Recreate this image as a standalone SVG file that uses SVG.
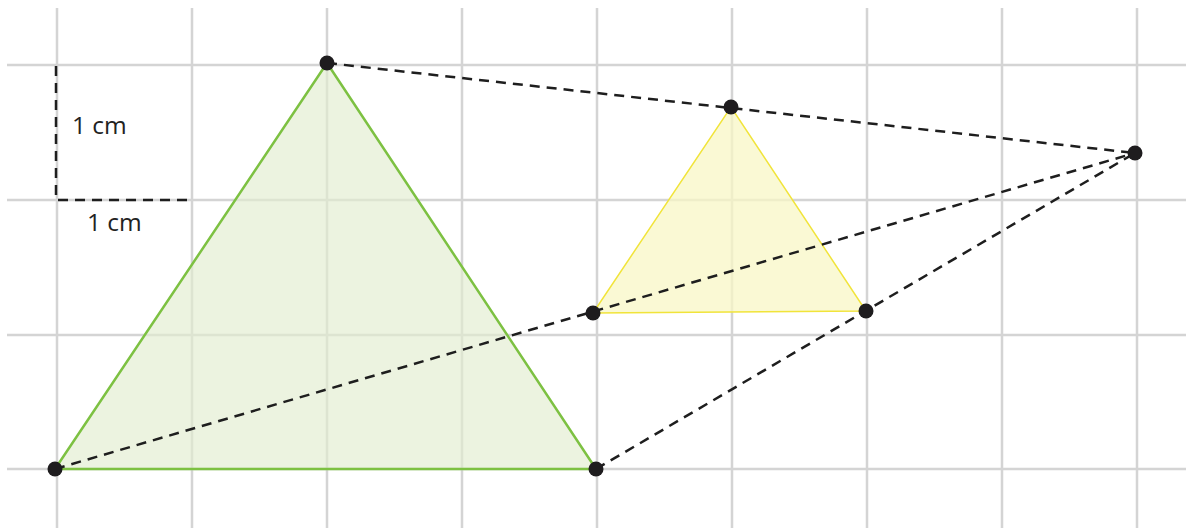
<svg xmlns="http://www.w3.org/2000/svg" width="1186" height="528" viewBox="0 0 1186 528">
<style>
.grid{stroke:#d4d4d4;stroke-width:2.5;fill:none}
.dash{stroke:#1e1e1e;stroke-width:2.5;stroke-dasharray:10 7;fill:none}
.dot{fill:#1e1c1e}
.lbl{font-family:"Open Sans","Liberation Sans",sans-serif;font-size:24.5px;fill:#222}
</style>
<rect width="1186" height="528" fill="#fff"/>
<g id="grid">
<path class="grid" d="M57 8V528M192 8V528M327 8V528M462 8V528M597 8V528M732 8V528M867 8V528M1002 8V528M1137 8V528M7 65H1186M7 200H1186M7 335H1186M7 469H1186"/>
</g>
<g id="big-triangle">
<polygon points="55,469 596,469 327,63" fill="#e2edd0" fill-opacity="0.65" stroke="#7dc142" stroke-width="2.5" stroke-linejoin="round"/>
</g>
<g id="small-triangle">
<polygon points="593,313 866,311 731,107" fill="#f8f7c6" fill-opacity="0.75" stroke="#f1e43a" stroke-width="1.5"/>
</g>
<g id="connectors">
<line class="dash" x1="327" y1="63" x2="1135" y2="153"/>
<line class="dash" x1="55" y1="469" x2="1135" y2="153"/>
<line class="dash" x1="596" y1="469" x2="1135" y2="153"/>
<path class="dash" d="M56 66V200H191" stroke-width="3"/>
</g>
<g id="labels">
<text class="lbl" x="72" y="134">1 cm</text>
<text class="lbl" x="87" y="231">1 cm</text>
</g>
<g id="points">
<circle class="dot" cx="55" cy="469" r="7.5"/>
<circle class="dot" cx="596" cy="469" r="7.5"/>
<circle class="dot" cx="327" cy="63" r="7.5"/>
<circle class="dot" cx="593" cy="313" r="7.5"/>
<circle class="dot" cx="866" cy="311" r="7.5"/>
<circle class="dot" cx="731" cy="107" r="7.5"/>
<circle class="dot" cx="1135" cy="153" r="7.5"/>
</g>
</svg>
